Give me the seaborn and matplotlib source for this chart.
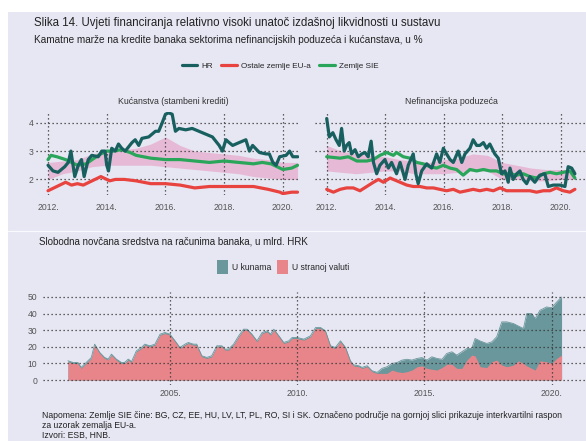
import matplotlib
matplotlib.use("Agg")
import matplotlib.pyplot as plt
import seaborn as sns
from matplotlib.lines import Line2D
from matplotlib.patches import Patch, Rectangle

# ---------------- DATA ----------------
# Household (housing loans) interest margins, %
hh_hr_t = [2012.0, 2012.17, 2012.34, 2012.57, 2012.69, 2012.78, 2012.91, 2013.03, 2013.14, 2013.23,
           2013.37, 2013.49, 2013.71, 2013.83, 2013.94, 2014.0, 2014.06, 2014.17, 2014.29, 2014.4,
           2014.51, 2014.63, 2014.86, 2014.97, 2015.09, 2015.2, 2015.43, 2015.66, 2015.77, 2015.89,
           2016.0, 2016.11, 2016.23, 2016.34, 2016.46, 2016.69, 2016.91, 2017.14, 2017.37, 2017.6,
           2017.83, 2017.94, 2018.06, 2018.17, 2018.29, 2018.51, 2018.74, 2018.86, 2018.97, 2019.2,
           2019.43, 2019.54, 2019.66, 2019.77, 2019.89, 2020.11, 2020.23, 2020.34, 2020.51]
hh_hr = [2.5, 2.3, 2.25, 2.45, 2.6, 3.0, 2.1, 2.5, 2.7, 2.1,
         2.7, 2.85, 2.8, 3.0, 3.0, 2.5, 2.3, 3.1, 3.0, 3.25,
         3.1, 3.0, 3.3, 3.4, 3.2, 3.45, 3.5, 3.7, 3.7, 4.0,
         4.3, 4.35, 4.3, 3.7, 3.8, 3.75, 3.8, 3.7, 3.6, 3.5,
         3.2, 3.0, 3.4, 3.3, 3.2, 3.3, 3.4, 3.0, 3.2, 2.95,
         2.9, 2.9, 2.6, 2.5, 2.8, 2.85, 3.0, 2.8, 2.8]

hh_sie_t = [2012.0, 2012.1, 2012.3, 2012.6, 2012.8, 2013.0, 2013.3, 2013.5, 2013.8, 2014.0,
            2014.2, 2014.5, 2014.8, 2015.0, 2015.5, 2016.0, 2016.5, 2017.0, 2017.5, 2018.0,
            2018.5, 2019.0, 2019.3, 2019.6, 2019.9, 2020.0, 2020.3, 2020.5]
hh_sie = [2.7, 2.85, 2.8, 2.7, 2.6, 2.5, 2.55, 2.7, 2.9, 3.0,
          3.0, 3.05, 2.95, 2.85, 2.75, 2.7, 2.7, 2.65, 2.6, 2.65,
          2.6, 2.55, 2.6, 2.55, 2.4, 2.35, 2.4, 2.5]

hh_eu_t = [2012.0, 2012.3, 2012.6, 2012.8, 2013.0, 2013.2, 2013.4, 2013.6, 2013.8, 2014.0,
           2014.1, 2014.3, 2014.6, 2015.0, 2015.5, 2016.0, 2016.5, 2017.0, 2017.5, 2018.0,
           2018.5, 2019.0, 2019.5, 2019.9, 2020.0, 2020.3, 2020.5]
hh_eu = [1.6, 1.75, 1.9, 1.8, 1.85, 1.8, 1.9, 2.0, 2.1, 2.0,
         1.95, 2.0, 2.0, 1.95, 1.85, 1.85, 1.8, 1.7, 1.75, 1.75,
         1.75, 1.75, 1.65, 1.55, 1.5, 1.55, 1.55]

hh_band_t = [2012.0, 2012.5, 2013.0, 2013.5, 2014.0, 2014.5, 2015.0, 2015.5, 2016.0, 2016.5,
             2017.0, 2017.5, 2018.0, 2018.5, 2019.0, 2019.5, 2020.0, 2020.5]
hh_band_lo = [2.0, 2.2, 2.3, 2.45, 2.5, 2.5, 2.5, 2.5, 2.45, 2.4,
              2.35, 2.3, 2.25, 2.2, 2.1, 2.05, 2.0, 2.0]
hh_band_hi = [2.6, 2.65, 2.7, 2.9, 3.0, 3.05, 3.1, 3.25, 3.5, 3.2,
              3.0, 2.95, 2.9, 2.85, 2.75, 2.7, 2.6, 2.6]

# Non-financial corporations
nf_hr_t = [2012.0, 2012.09, 2012.21, 2012.32, 2012.43, 2012.51, 2012.6, 2012.68, 2012.77, 2012.85,
           2012.97, 2013.08, 2013.2, 2013.31, 2013.42, 2013.52, 2013.6, 2013.71, 2013.82, 2013.99,
           2014.11, 2014.22, 2014.39, 2014.51, 2014.68, 2014.79, 2014.96, 2015.05, 2015.13, 2015.25,
           2015.42, 2015.59, 2015.76, 2015.87, 2015.99, 2016.1, 2016.22, 2016.33, 2016.5, 2016.62,
           2016.73, 2016.9, 2017.01, 2017.13, 2017.24, 2017.36, 2017.47, 2017.58, 2017.75, 2017.87,
           2017.98, 2018.1, 2018.21, 2018.27, 2018.38, 2018.5, 2018.61, 2018.72, 2018.84, 2018.95,
           2019.12, 2019.29, 2019.46, 2019.58, 2019.75, 2019.98, 2020.15, 2020.26, 2020.38, 2020.49]
nf_hr = [4.15, 3.5, 3.65, 3.4, 3.2, 3.8, 3.0, 3.2, 3.3, 2.9,
         3.05, 2.8, 2.9, 2.95, 2.8, 3.35, 2.6, 2.2, 2.5, 2.7,
         2.4, 2.6, 2.2, 2.6, 2.0, 2.5, 2.9, 2.2, 1.85, 2.3,
         2.55, 2.4, 2.9, 2.6, 3.1, 2.9, 2.7, 2.6, 3.0, 2.6,
         2.9, 3.1, 3.4, 3.2, 3.2, 3.3, 3.1, 3.25, 2.9, 2.75,
         2.2, 2.3, 1.9, 2.4, 2.0, 2.2, 2.3, 2.0, 1.85, 2.1,
         1.9, 2.15, 2.2, 1.75, 1.8, 1.8, 1.75, 2.45, 2.4, 2.2]

nf_sie_t = [2012.0, 2012.46, 2012.74, 2013.03, 2013.37, 2013.6, 2013.82, 2014.05, 2014.28, 2014.39,
            2014.62, 2014.85, 2015.08, 2015.3, 2015.53, 2015.76, 2015.99, 2016.22, 2016.44, 2016.67,
            2016.9, 2017.13, 2017.36, 2017.58, 2017.81, 2018.04, 2018.27, 2018.5, 2018.72, 2018.95,
            2019.18, 2019.41, 2019.64, 2019.86, 2020.09, 2020.32, 2020.49]
nf_sie = [2.8, 2.75, 2.8, 2.65, 2.65, 2.7, 2.85, 2.95, 2.85, 2.95,
          2.8, 2.75, 2.6, 2.55, 2.45, 2.4, 2.5, 2.4, 2.35, 2.15,
          2.35, 2.3, 2.35, 2.3, 2.3, 2.2, 2.2, 2.15, 2.2, 2.1,
          2.05, 2.2, 2.25, 2.2, 2.25, 2.3, 2.05]

nf_eu_t = [2012.0, 2012.11, 2012.23, 2012.46, 2012.68, 2012.91, 2013.14, 2013.37, 2013.6, 2013.77,
           2013.94, 2014.17, 2014.28, 2014.51, 2014.74, 2014.96, 2015.19, 2015.42, 2015.65, 2015.87,
           2016.1, 2016.33, 2016.56, 2016.79, 2017.01, 2017.24, 2017.47, 2017.7, 2017.93, 2018.15,
           2018.38, 2018.72, 2018.95, 2019.18, 2019.41, 2019.64, 2019.86, 2020.09, 2020.32, 2020.49]
nf_eu = [1.65, 1.6, 1.55, 1.65, 1.7, 1.7, 1.6, 1.75, 1.9, 2.0,
         1.9, 2.05, 2.0, 1.9, 1.8, 1.75, 1.75, 1.7, 1.7, 1.65,
         1.6, 1.65, 1.55, 1.6, 1.65, 1.6, 1.65, 1.6, 1.7, 1.6,
         1.6, 1.6, 1.6, 1.55, 1.6, 1.6, 1.7, 1.6, 1.55, 1.65]

nf_band_t = [2012.0, 2012.5, 2013.0, 2013.5, 2014.0, 2014.5, 2015.0, 2015.5, 2016.0, 2016.5,
             2017.0, 2017.5, 2018.0, 2018.5, 2019.0, 2019.5, 2020.0, 2020.5]
nf_band_lo = [2.3, 2.25, 2.2, 2.25, 2.3, 2.3, 2.2, 2.2, 2.2, 2.25,
              2.3, 2.3, 2.0, 2.0, 1.95, 1.95, 2.0, 2.0]
nf_band_hi = [3.2, 3.0, 2.9, 2.85, 2.8, 2.7, 2.65, 2.6, 2.7, 2.75,
              2.9, 2.85, 2.6, 2.5, 2.4, 2.35, 2.35, 2.35]

# Free cash on bank accounts, bn HRK
liq_t = [2000.99, 2001.18, 2001.38, 2001.51, 2001.71, 2001.91, 2002.04, 2002.24, 2002.43, 2002.57,
         2002.7, 2002.89, 2003.09, 2003.22, 2003.36, 2003.49, 2003.68, 2003.88, 2004.01, 2004.21,
         2004.41, 2004.61, 2004.8, 2005.0, 2005.2, 2005.39, 2005.59, 2005.72, 2005.92, 2006.05,
         2006.25, 2006.45, 2006.64, 2006.84, 2007.04, 2007.17, 2007.3, 2007.5, 2007.7, 2007.89,
         2008.03, 2008.22, 2008.42, 2008.62, 2008.82, 2008.95, 2009.08, 2009.28, 2009.47, 2009.67,
         2009.8, 2010.0, 2010.26, 2010.52, 2010.72, 2010.92, 2011.11, 2011.31, 2011.5, 2011.7,
         2011.9, 2012.09, 2012.22, 2012.42, 2012.55, 2012.75, 2012.94, 2013.14, 2013.33, 2013.53,
         2013.73, 2013.92, 2014.12, 2014.31, 2014.51, 2014.71, 2014.9, 2015.1, 2015.29, 2015.49,
         2015.69, 2015.88, 2016.08, 2016.27, 2016.47, 2016.67, 2016.86, 2016.99, 2017.19, 2017.45,
         2017.65, 2017.84, 2018.04, 2018.24, 2018.5, 2018.69, 2018.89, 2019.02, 2019.22, 2019.35,
         2019.54, 2019.8, 2020.0, 2020.2, 2020.39]
liq_foreign = [11, 10, 10, 7, 10, 13, 21, 16, 13, 12,
               15, 12, 10, 10, 12, 10.5, 17, 19, 21, 20,
               21, 27, 28, 27, 23, 19, 21, 22, 21, 21,
               14, 13, 14, 20, 20, 18, 18, 21, 26, 30,
               30, 27, 23, 28, 29, 27, 30, 26, 22, 23,
               25, 25, 24, 26, 31, 31, 29, 20, 19, 23,
               19, 11, 8.5, 8, 7, 8, 5, 4, 4, 4,
               6, 5, 4.5, 5, 6, 8, 8.5, 7, 6.5, 6,
               7.5, 9.5, 9.5, 7, 7, 12, 15, 14.5, 8, 7.5,
               11, 12, 9, 8, 9, 11.5, 10, 8.5, 7, 6,
               11.5, 11, 10, 13, 15]
liq_kuna = [0.6, 0.6, 0.6, 0.6, 0.6, 0.6, 0.6, 0.6, 0.6, 0.6,
            0.6, 0.6, 0.6, 0.6, 0.6, 0.6, 0.6, 0.6, 0.6, 0.6,
            0.6, 0.6, 0.6, 0.6, 0.6, 0.6, 0.6, 0.6, 0.6, 0.6,
            0.6, 0.6, 0.6, 0.6, 0.6, 0.6, 0.6, 0.6, 0.6, 0.6,
            0.6, 0.6, 0.6, 0.6, 0.6, 0.6, 0.6, 0.6, 0.6, 0.6,
            0.6, 0.6, 0.6, 0.6, 0.6, 0.6, 0.6, 0.6, 0.6, 0.6,
            0.6, 0.6, 0.6, 0.6, 0.6, 0.6, 0.6, 0.6, 3, 4,
            4, 5.5, 7.5, 7.5, 6, 5, 5, 5, 7.5, 7,
            5, 6.5, 7.5, 8, 10, 7, 4, 10.5, 15.5, 14.5,
            12, 14, 26, 27, 25, 21, 21, 31.5, 33, 31,
            30.5, 33, 33.5, 34, 35]

top_xticks = [2012, 2014, 2016, 2018, 2020]
top_xticklabels = ["2012.", "2014.", "2016.", "2018.", "2020."]
top_yticks = [2, 3, 4]
bot_xticks = [2005, 2010, 2015, 2020]
bot_xticklabels = ["2005.", "2010.", "2015.", "2020."]
bot_yticks = [0, 10, 20, 30, 40, 50]

# ---------------- STYLE ----------------
sns.set_theme(style="white")
plt.rcParams['font.family'] = ['Liberation Sans', 'DejaVu Sans']

C_HR = '#18605f'
C_EU = '#e8433f'
C_SIE = '#2aa65a'
C_BAND = '#e6b6d3'
C_KUNA = '#6a979b'
C_FX = '#e8858a'
BG = '#e6e7f3'
TXT = '#222222'
TICK = '#555555'

W, H = 586, 441
fig = plt.figure(figsize=(W / 100, H / 100), dpi=100)
fig.patch.set_facecolor('white')
fig.patches.append(Rectangle((8 / W, 0), 1 - 8 / W, 1 - 12 / H, transform=fig.transFigure,
                             facecolor=BG, edgecolor='none', zorder=-10))
fig.add_artist(Line2D([8 / W, 1], [1 - 231 / H] * 2, color='white', lw=0.8, alpha=0.8))


def ax_px(x0, y0, x1, y1):
    return fig.add_axes([x0 / W, 1 - y1 / H, (x1 - x0) / W, (y1 - y0) / H])


def style(ax):
    ax.set_facecolor('none')
    for s in ax.spines.values():
        s.set_visible(False)
    ax.grid(True, color='#333333', linestyle=(0, (1, 2.2)), linewidth=0.9)
    ax.set_axisbelow('line')
    ax.tick_params(length=0, labelsize=6.2, colors=TICK)
    ax.set_xlabel('')
    ax.set_ylabel('')


# ---------------- TOP PANELS ----------------
panels = [
    (ax_px(36, 112, 299, 195), (2011.59, 2020.55), True, "Kućanstva (stambeni krediti)", 173,
     hh_band_t, hh_band_lo, hh_band_hi, hh_hr_t, hh_hr, hh_eu_t, hh_eu, hh_sie_t, hh_sie),
    (ax_px(315, 112, 586, 195), (2011.6, 2020.87), False, "Nefinancijska poduzeća", 451,
     nf_band_t, nf_band_lo, nf_band_hi, nf_hr_t, nf_hr, nf_eu_t, nf_eu, nf_sie_t, nf_sie),
]
for (ax, xl, show_y, title, tx, bt, blo, bhi, ht, hv, et, ev, st, sv) in panels:
    ax.fill_between(bt, blo, bhi, color=C_BAND, lw=0, alpha=0.9, zorder=1)
    sns.lineplot(x=et, y=ev, ax=ax, color=C_EU, linewidth=2.3, zorder=3)
    sns.lineplot(x=st, y=sv, ax=ax, color=C_SIE, linewidth=2.3, zorder=4)
    sns.lineplot(x=ht, y=hv, ax=ax, color=C_HR, linewidth=2.3, zorder=5)
    style(ax)
    ax.set_xlim(*xl)
    ax.set_ylim(1.45, 4.38)
    ax.set_xticks(top_xticks)
    ax.set_xticklabels(top_xticklabels)
    ax.set_yticks(top_yticks)
    ax.tick_params(axis='x', pad=6)
    ax.tick_params(axis='y', pad=2)
    if not show_y:
        ax.tick_params(labelleft=False)
    fig.text(tx / W, 1 - 101 / H, title, ha='center', va='center', fontsize=6.3, color='#333333')

# ---------------- BOTTOM PANEL ----------------
axb = ax_px(43, 292, 586, 385)
total = [f + k for f, k in zip(liq_foreign, liq_kuna)]
axb.fill_between(liq_t, 0, total, color=C_KUNA, lw=0, zorder=1)
axb.fill_between(liq_t, 0, liq_foreign, color=C_FX, lw=0, zorder=1.1)
sns.lineplot(x=liq_t, y=total, ax=axb, color=C_KUNA, linewidth=0.6, zorder=1.2)
style(axb)
axb.set_xlim(2000.01, 2021.35)
axb.set_ylim(-3, 53)
axb.set_xticks(bot_xticks)
axb.set_xticklabels(bot_xticklabels)
axb.set_yticks(bot_yticks)
axb.tick_params(axis='x', pad=3)
axb.tick_params(axis='y', pad=4)

# ---------------- TEXTS & LEGENDS ----------------
fig.text(34 / W, 1 - 23 / H, "Slika 14. Uvjeti financiranja relativno visoki unatoč izdašnoj likvidnosti u sustavu",
         ha='left', va='center', fontsize=8.3, color=TXT)
fig.text(34 / W, 1 - 40 / H, "Kamatne marže na kredite banaka sektorima nefinancijskih poduzeća i kućanstava, u %",
         ha='left', va='center', fontsize=7.2, color=TXT)

leg_handles = [Line2D([], [], color=C_HR, lw=2.3), Line2D([], [], color=C_EU, lw=2.3),
               Line2D([], [], color=C_SIE, lw=2.3)]
fig.legend(leg_handles, ["HR", "Ostale zemlje EU-a", "Zemlje SIE"], loc='center',
           bbox_to_anchor=(280 / W, 1 - 66 / H), ncol=3, frameon=False, fontsize=5.9,
           handlelength=1.9, columnspacing=1.0, handletextpad=0.5)

fig.text(39 / W, 1 - 242 / H, "Slobodna novčana sredstva na računima banaka, u mlrd. HRK",
         ha='left', va='center', fontsize=7, color=TXT)
leg2 = [Patch(facecolor=C_KUNA, edgecolor='none'), Patch(facecolor=C_FX, edgecolor='none')]
fig.legend(leg2, ["U kunama", "U stranoj valuti"], loc='center',
           bbox_to_anchor=(283 / W, 1 - 267 / H), ncol=2, frameon=False, fontsize=6.2,
           handlelength=1.3, handleheight=2.2, columnspacing=0.6, handletextpad=0.5)

fig.text(42 / W, 1 - 411 / H,
         "Napomena: Zemlje SIE čine: BG, CZ, EE, HU, LV, LT, PL, RO, SI i SK. Označeno područje na gornjoj slici prikazuje interkvartilni raspon\n"
         "za uzorak zemalja EU-a.\nIzvori: ESB, HNB.",
         ha='left', va='top', fontsize=6.2, color=TXT, linespacing=1.1)

fig.savefig("out.png", dpi=100, facecolor=fig.get_facecolor())
